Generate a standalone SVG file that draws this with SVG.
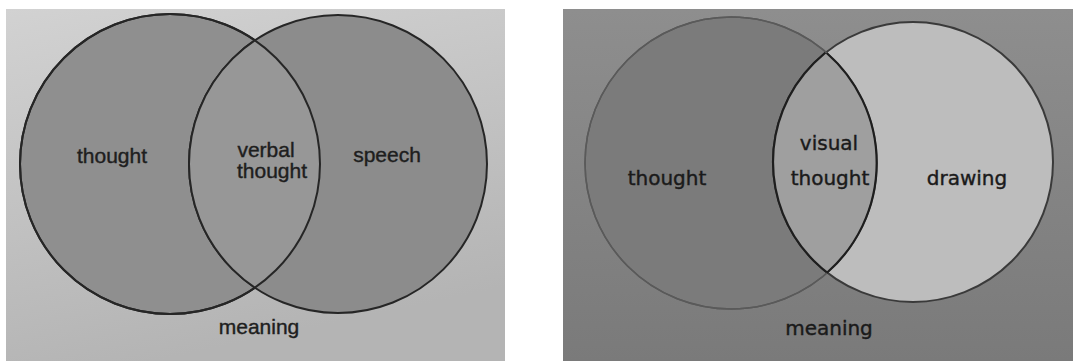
<svg xmlns="http://www.w3.org/2000/svg" width="1073" height="361" viewBox="0 0 1073 361">
<style>
.t1{font-family:"Liberation Sans",Arial,sans-serif;font-size:21px;fill:#1e1e1e;stroke:#1e1e1e;stroke-width:0.4;text-anchor:middle}
.t2{font-family:"DejaVu Sans","Noto Sans",sans-serif;font-size:20px;fill:#1a1a1a;stroke:#1a1a1a;stroke-width:0.4;text-anchor:middle}
</style>
<defs>
<linearGradient id="bgL" x1="0" y1="0" x2="0.3" y2="1">
<stop offset="0" stop-color="#d2d2d2"/><stop offset="1" stop-color="#b4b4b4"/>
</linearGradient>
<linearGradient id="bgR" x1="0" y1="0" x2="0" y2="1">
<stop offset="0" stop-color="#8e8e8e"/><stop offset="1" stop-color="#7a7a7a"/>
</linearGradient>
<clipPath id="clipL1"><circle cx="170" cy="164" r="150"/></clipPath>
<clipPath id="clipR1"><circle cx="731" cy="163" r="146"/></clipPath>
</defs>
<rect width="1073" height="361" fill="#ffffff"/>
<g id="panel-verbal">
<rect x="6" y="9" width="499" height="352" fill="url(#bgL)"/>
<g id="node-thought-left">
<circle cx="170" cy="164" r="150" fill="#8f8f8f" stroke="#262626" stroke-width="2"/>
</g>
<g id="node-speech">
<circle cx="338" cy="164" r="149" fill="#8c8c8c" stroke="#262626" stroke-width="2"/>
</g>
<g id="node-verbal-thought">
<circle cx="338" cy="164" r="149" fill="#979797" stroke="#262626" stroke-width="2" clip-path="url(#clipL1)"/>
<circle cx="170" cy="164" r="150" fill="none" stroke="#262626" stroke-width="2"/>
</g>
<text class="t1" x="112" y="163">thought</text>
<text class="t1" x="266" y="157">verbal</text>
<text class="t1" x="272" y="178">thought</text>
<text class="t1" x="387" y="162">speech</text>
<text class="t1" x="259" y="334">meaning</text>
</g>
<g id="panel-visual">
<rect x="563" y="9" width="510" height="352" fill="url(#bgR)"/>
<g id="node-thought-right">
<circle cx="731" cy="163" r="146" fill="#7b7b7b" stroke="#5a5a5a" stroke-width="1.5"/>
</g>
<g id="node-drawing">
<circle cx="913" cy="162" r="140" fill="#bdbdbd" stroke="#3a3a3a" stroke-width="2"/>
</g>
<g id="node-visual-thought">
<circle cx="913" cy="162" r="140" fill="#9f9f9f" stroke="#1e1e1e" stroke-width="2.2" clip-path="url(#clipR1)"/>
<circle cx="731" cy="163" r="146" fill="none" stroke="#5a5a5a" stroke-width="1.5"/>
<path d="M826.7 53 A146 146 0 0 1 826.7 273" fill="none" stroke="#1e1e1e" stroke-width="2.2"/>
</g>
<text class="t2" x="667" y="185">thought</text>
<text class="t2" x="829" y="150">visual</text>
<text class="t2" x="830" y="185">thought</text>
<text class="t2" x="967" y="185">drawing</text>
<text class="t2" x="829" y="335">meaning</text>
</g>
</svg>
